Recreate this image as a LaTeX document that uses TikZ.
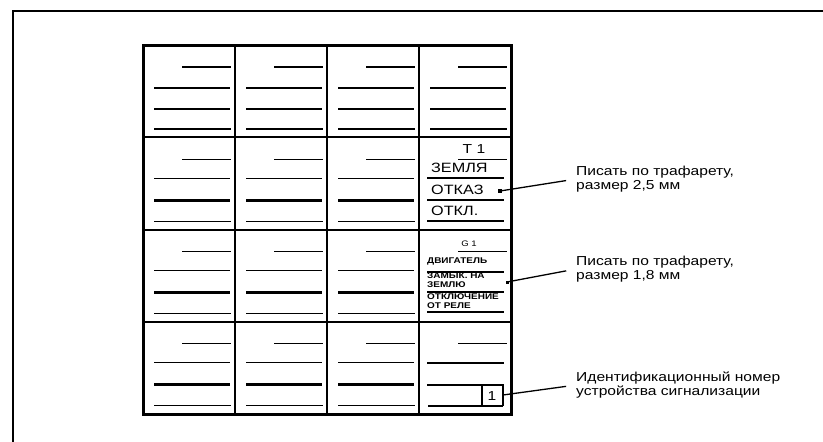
\documentclass[tikz,border=0pt]{standalone}
\usepackage{fontspec}
\setmainfont{Liberation Sans}[FakeStretch=1.2]
\begin{document}
\begin{tikzpicture}[x=1pt,y=-1pt,
  thinln/.style={line width=1.3pt},
  thickln/.style={line width=2.8pt},
  gridln/.style={line width=2pt},
  lbl/.style={anchor=west,align=left,inner sep=0pt,font=\fontsize{13}{14}\selectfont},
  celltxt/.style={anchor=west,inner sep=0pt,font=\fontsize{13.5}{14}\selectfont},
  tinytxt/.style={anchor=west,inner sep=0pt,font=\bfseries\fontsize{8.3}{8}\selectfont},
  conn/.style={line width=1.3pt,shorten >=10pt}]
\useasboundingbox (0,0) rectangle (823,442);
% outer frame
\draw[line width=2.5pt] (13,442) -- (13,11) -- (823,11);
% grid
\foreach \i in {1,2,3} {
  \draw[gridln] ({143+\i*92},45) -- ({143+\i*92},414);
  \draw[gridln] (143,{45+\i*92.25}) -- (511,{45+\i*92.25});
}
\draw[line width=3pt] (143,45) rectangle (511,414);
% generic cell lines
\foreach \c in {0,1,2,3} {
  \pgfmathsetmacro{\xa}{143+\c*92}
  % row 1
  \draw[thinln] (\xa+39,67) -- (\xa+88,67);
  \draw[thickln] (\xa+11,88) -- (\xa+87,88);
  \draw[thinln] (\xa+11,109) -- (\xa+87,109);
  \draw[thinln] (\xa+11,129) -- (\xa+88,129);
  \foreach \r in {1,2,3} {
    \pgfmathsetmacro{\ya}{45+\r*92.25}
    \draw[thinln] (\xa+39,\ya+22) -- (\xa+88,\ya+22);
    \ifnum\c<3
      \draw[thinln] (\xa+11,\ya+41) -- (\xa+87,\ya+41);
      \draw[thickln] (\xa+11,\ya+63) -- (\xa+87,\ya+63);
      \draw[thinln] (\xa+11,\ya+84) -- (\xa+88,\ya+84);
    \fi
  }
}
% column 4 row 2
\draw[thinln] (427,178) -- (504,178);
\draw[thickln] (427,200) -- (504,200);
\draw[thinln] (427,221) -- (504,221);
\node[inner sep=0pt,font=\fontsize{13}{14}\selectfont] (t1) at (474,149) {T 1};
\node[celltxt] (zem) at (431,168) {ЗЕМЛЯ};
\node[celltxt] (otk) at (431,190) {ОТКАЗ};
\node[celltxt] (otkl) at (431,211) {ОТКЛ.};
% column 4 row 3
\draw[thinln] (427,272) -- (504,272);
\draw[thickln] (427,292) -- (504,292);
\draw[thinln] (427,312) -- (504,312);
\node[inner sep=0pt,font=\fontsize{8}{8}\selectfont] (g1) at (469,244) {G 1};
\node[tinytxt] (dv) at (427,261) {ДВИГАТЕЛЬ};
\node[tinytxt] (zam) at (427,276) {ЗАМЫК. НА};
\node[tinytxt] (zml) at (427,285) {ЗЕМЛЮ};
\node[tinytxt] (otkch) at (427,297) {ОТКЛЮЧЕНИЕ};
\node[tinytxt] (rele) at (427,306) {ОТ РЕЛЕ};
% column 4 row 4
\draw[thinln] (427,363) -- (504,363);
\draw[thickln] (427,385) -- (504,385);
\draw[thinln] (428,406) -- (503,406);
\draw[line width=2.5pt] (482,385) -- (482,406);
\draw[thinln] (503,385) -- (503,406);
\node[inner sep=0pt,font=\fontsize{13}{14}\selectfont] (one) at (492,396) {1};
% labels
\node[lbl] (l1) at (576,179) {Писать по трафарету,\\размер 2,5 мм};
\node[lbl] (l2) at (576,269) {Писать по трафарету,\\размер 1,8 мм};
\node[lbl] (l3) at (576,385) {Идентификационный номер\\устройства сигнализации};
% connectors
\coordinate (c1) at (500,191);
\coordinate (c2) at (507,282);
\coordinate (c3) at (503,395);
\fill (c1) ++(-1.8,-1.8) rectangle ++(3.6,3.6);
\fill (c2) ++(-1.5,-1.5) rectangle ++(3,3);
\draw[conn] (c1) -- (l1.west);
\draw[conn] (c2) -- (l2.west);
\draw[conn] (c3) -- (l3.west);
\end{tikzpicture}
\end{document}
